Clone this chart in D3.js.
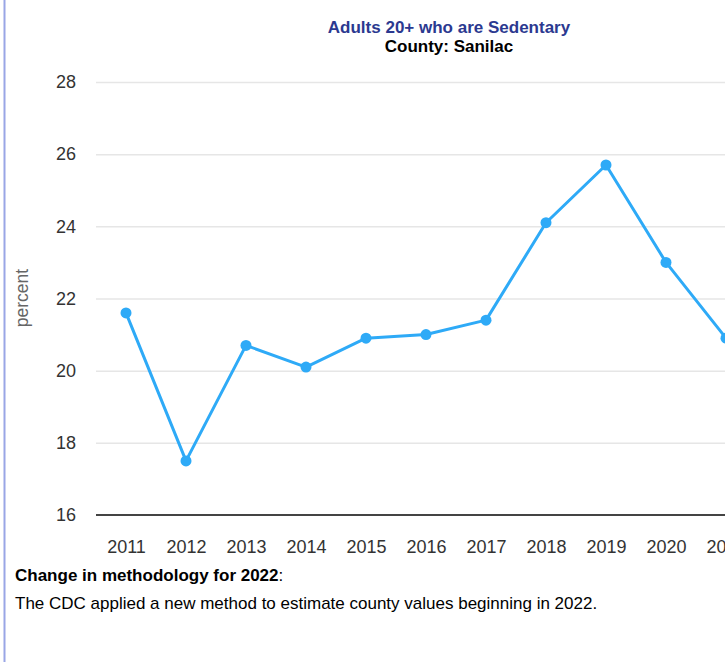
<!DOCTYPE html>
<html><head><meta charset="utf-8">
<script src="https://cdn.jsdelivr.net/npm/d3@7"></script>
<style>
html,body{margin:0;padding:0;background:#fff;overflow:hidden;}
svg{display:block;font-family:"Liberation Sans",Arial,sans-serif;}
</style></head>
<body>
<svg id="chart" width="725" height="662"></svg>
<script>
const years = ["2011","2012","2013","2014","2015","2016","2017","2018","2019","2020","2021"];
const values = [21.6, 17.5, 20.7, 20.1, 20.9, 21.0, 21.4, 24.1, 25.7, 23.0, 20.9];
const yTicks = [16, 18, 20, 22, 24, 26, 28];
const titleText = "Adults 20+ who are Sedentary";
const subtitleText = "County: Sanilac";
const yLabel = "percent";
const noteBold = "Change in methodology for 2022";
const noteText = "The CDC applied a new method to estimate county values beginning in 2022.";

const svg = d3.select("#chart");

// left border
svg.append("line").attr("x1",4.5).attr("x2",4.5).attr("y1",0).attr("y2",662)
  .attr("stroke","#99a6e6").attr("stroke-width",2);

const plotLeft = 96, plotTop = 82, plotBottom = 515;
const x = d3.scalePoint().domain(years).range([126, 726]);
const y = d3.scaleLinear().domain([16, 28]).range([plotBottom, plotTop]);

// gridlines
svg.append("g").selectAll("line").data(yTicks.filter(d => d !== 16)).join("line")
  .attr("x1", plotLeft).attr("x2", 725)
  .attr("y1", d => y(d)+0.5).attr("y2", d => y(d)+0.5)
  .attr("stroke", "#e6e6e6").attr("stroke-width", 1.5);

// y axis labels
const yAxis = d3.axisLeft(y).tickValues(yTicks).tickSize(0).tickPadding(0);
const gy = svg.append("g").attr("transform", `translate(76,0)`).call(yAxis);
gy.select(".domain").remove();
gy.selectAll("text").attr("fill","#333").attr("font-size","18px")
  .attr("font-family",'"Liberation Sans",Arial,sans-serif');

// x axis
const xAxis = d3.axisBottom(x).tickSize(0).tickPadding(0);
const gx = svg.append("g").attr("transform", `translate(0,${plotBottom})`).call(xAxis);
gx.select(".domain").remove();
gx.selectAll("text").attr("fill","#333").attr("font-size","18px").attr("dy", "38px")
  .attr("font-family",'"Liberation Sans",Arial,sans-serif');
svg.append("line").attr("x1", plotLeft).attr("x2", 725).attr("y1", plotBottom).attr("y2", plotBottom)
  .attr("stroke","#444").attr("stroke-width",2);

// y label
svg.append("text").attr("transform", "translate(28,298) rotate(-90)")
  .attr("text-anchor","middle").attr("fill","#666").attr("font-size","17.5px").text(yLabel);

// line
const line = d3.line().x((d,i) => x(years[i])).y(d => y(d));
svg.append("path").datum(values).attr("d", line)
  .attr("fill","none").attr("stroke","#2eaaf7").attr("stroke-width",3)
  .attr("stroke-linejoin","round");
svg.append("g").selectAll("circle").data(values).join("circle")
  .attr("cx", (d,i) => x(years[i])).attr("cy", d => y(d)).attr("r", 5.5)
  .attr("fill","#2eaaf7");

// titles
svg.append("text").attr("x", 449).attr("y", 33).attr("text-anchor","middle")
  .attr("font-size","17px").attr("font-weight","bold").attr("fill","#2b3990").text(titleText);
svg.append("text").attr("x", 449).attr("y", 52).attr("text-anchor","middle")
  .attr("font-size","17px").attr("font-weight","bold").attr("fill","#000").text(subtitleText);

// notes
const n1 = svg.append("text").attr("x", 15).attr("y", 581).attr("font-size","17px").attr("fill","#000");
n1.append("tspan").attr("font-weight","bold").text(noteBold);
n1.append("tspan").text(":");
svg.append("text").attr("x", 15).attr("y", 609).attr("font-size","17px").attr("fill","#000").text(noteText);
</script>
</body></html>
